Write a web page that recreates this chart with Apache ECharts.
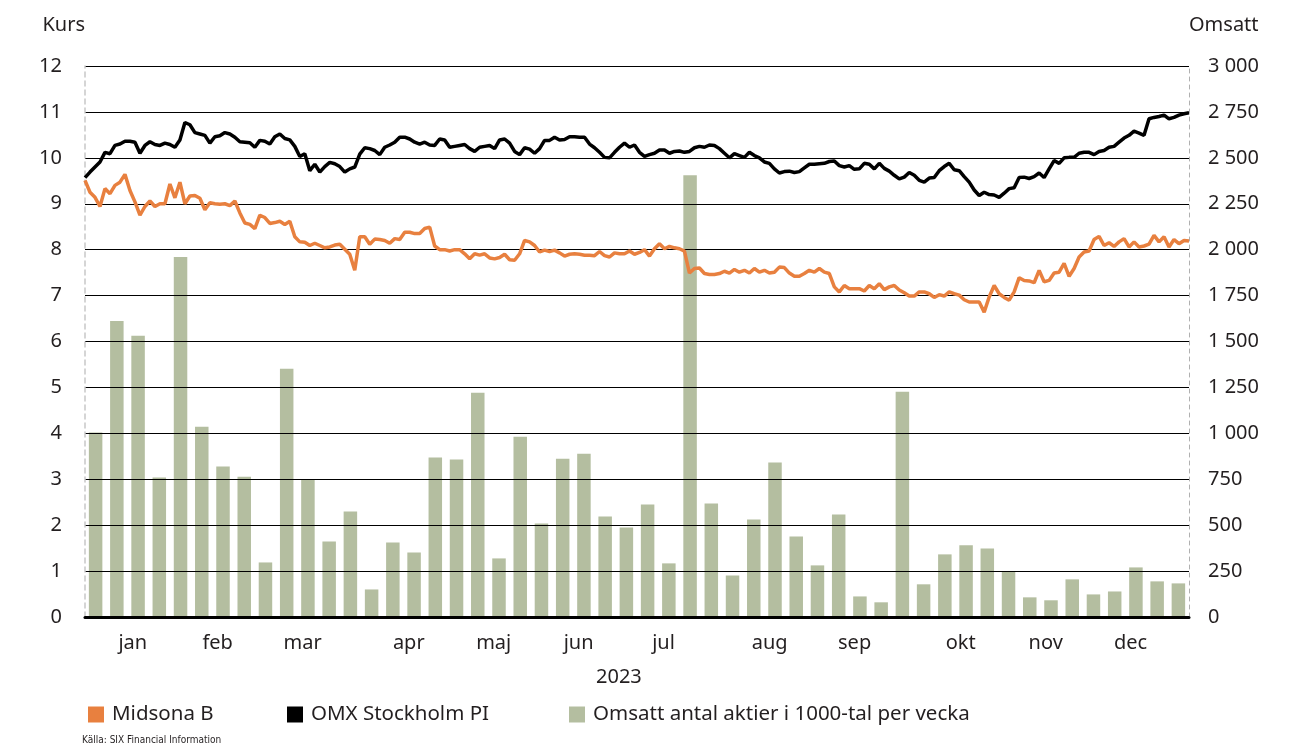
<!DOCTYPE html>
<html>
<head>
<meta charset="utf-8">
<script src="https://cdn.jsdelivr.net/npm/echarts@6/dist/echarts.min.js"></script>
<style>
html, body { margin: 0; padding: 0; background: #fff; }
#chart { width: 1294px; height: 745px; }
</style>
</head>
<body>
<div id="chart"></div>
<script>
// Midsona B, daily closing price (kr)
const midsona = [
  9.51, 9.25, 9.14, 8.94, 9.33, 9.22, 9.40, 9.47, 9.64, 9.29,
  9.04, 8.75, 8.94, 9.06, 8.94, 9.00, 9.00, 9.43, 9.13, 9.47,
  9.00, 9.17, 9.18, 9.12, 8.87, 9.02, 9.00, 8.99, 9.00, 8.96,
  9.06, 8.80, 8.58, 8.55, 8.46, 8.75, 8.70, 8.57, 8.59, 8.62,
  8.55, 8.62, 8.28, 8.17, 8.16, 8.09, 8.14, 8.09, 8.04, 8.06,
  8.10, 8.12, 8.01, 7.90, 7.55,
  8.28, 8.28, 8.12, 8.23, 8.22, 8.20, 8.14, 8.24, 8.22, 8.38,
  8.38, 8.35, 8.35, 8.46, 8.49, 8.08, 8.00, 8.00, 7.97, 8.00,
  8.00, 7.91, 7.80, 7.91, 7.88, 7.91, 7.82, 7.80, 7.83, 7.90,
  7.78, 7.77, 7.91, 8.20, 8.17, 8.09, 7.95, 7.99, 7.96, 7.99,
  7.93, 7.86, 7.90, 7.91, 7.90, 7.88, 7.88, 7.87, 7.96, 7.87,
  7.84, 7.93, 7.91, 7.91, 7.97, 7.90,
  7.94, 8.00, 7.86, 8.02, 8.13, 8.02, 8.07, 8.04, 8.02, 7.97,
  7.49, 7.59, 7.60, 7.48, 7.46, 7.46, 7.48, 7.53, 7.49, 7.57,
  7.51, 7.55, 7.49, 7.59, 7.51, 7.55, 7.49, 7.51, 7.62, 7.61,
  7.49, 7.42, 7.42, 7.48, 7.55, 7.51, 7.59, 7.51, 7.48, 7.19,
  7.08, 7.22, 7.15, 7.15, 7.15, 7.10, 7.22, 7.15, 7.26, 7.13,
  7.19, 7.22, 7.12, 7.06, 6.99,
  6.99, 7.08, 7.08, 7.04, 6.96, 7.02, 6.99, 7.08, 7.04, 7.01,
  6.91, 6.86, 6.86, 6.86, 6.64, 6.97, 7.22, 7.04, 6.96, 6.90,
  7.08, 7.39, 7.33, 7.32, 7.28, 7.55, 7.30, 7.33, 7.49, 7.51,
  7.70, 7.42, 7.59, 7.84, 7.95, 7.97, 8.22, 8.29, 8.09, 8.15,
  8.07, 8.17, 8.24, 8.06, 8.17, 8.06, 8.08, 8.12, 8.31, 8.17,
  8.28, 8.06, 8.22, 8.13, 8.20, 8.19
];

// OMX Stockholm PI, rebased to the Midsona start price
const omx = [
  9.57, 9.69, 9.80, 9.91, 10.12, 10.09, 10.27, 10.30, 10.36, 10.36,
  10.34, 10.10, 10.27, 10.35, 10.29, 10.27, 10.32, 10.29, 10.23, 10.39,
  10.77, 10.72, 10.55, 10.52, 10.49, 10.32, 10.46, 10.48, 10.55, 10.52,
  10.45, 10.35, 10.34, 10.33, 10.23, 10.38, 10.36, 10.30, 10.46, 10.52,
  10.42, 10.39, 10.25, 10.03, 10.09, 9.72, 9.86, 9.69, 9.81, 9.90,
  9.87, 9.81, 9.69, 9.76, 9.80,
  10.08, 10.22, 10.20, 10.16, 10.07, 10.23, 10.28, 10.34, 10.45, 10.45,
  10.41, 10.34, 10.30, 10.34, 10.28, 10.27, 10.41, 10.39, 10.23, 10.25,
  10.27, 10.29, 10.20, 10.14, 10.23, 10.25, 10.27, 10.20, 10.39, 10.41,
  10.32, 10.14, 10.07, 10.22, 10.19, 10.10, 10.20, 10.38, 10.38, 10.45,
  10.39, 10.40, 10.46, 10.46, 10.45, 10.45, 10.30, 10.22, 10.12, 10.01,
  10.00, 10.12, 10.23, 10.32, 10.23, 10.28,
  10.12, 10.03, 10.07, 10.10, 10.17, 10.17, 10.10, 10.14, 10.15, 10.12,
  10.14, 10.22, 10.25, 10.23, 10.28, 10.27, 10.20, 10.10, 10.00, 10.09,
  10.05, 10.01, 10.12, 10.05, 10.00, 9.91, 9.88, 9.76, 9.67, 9.70,
  9.71, 9.68, 9.70, 9.78, 9.86, 9.86, 9.87, 9.88, 9.92, 9.93,
  9.83, 9.80, 9.83, 9.75, 9.76, 9.88, 9.86, 9.76, 9.88, 9.77,
  9.71, 9.62, 9.54, 9.58, 9.68,
  9.62, 9.51, 9.47, 9.56, 9.57, 9.72, 9.81, 9.88, 9.74, 9.72,
  9.59, 9.47, 9.30, 9.18, 9.25, 9.20, 9.19, 9.14, 9.23, 9.33,
  9.35, 9.57, 9.58, 9.55, 9.59, 9.67, 9.57, 9.76, 9.94, 9.88,
  10.00, 10.01, 10.01, 10.10, 10.12, 10.12, 10.07, 10.14, 10.16, 10.23,
  10.25, 10.34, 10.43, 10.49, 10.58, 10.54, 10.49, 10.85, 10.88, 10.90,
  10.93, 10.85, 10.88, 10.93, 10.96, 10.98
];

// weekly turnover, thousands of shares
const volume = [
  1005, 1612, 1531, 759, 1960, 1036, 819, 764, 297, 1351,
  746, 411, 574, 150, 406, 351, 868, 857, 1221, 319,
  982, 509, 862, 889, 547, 487, 612, 292, 2405, 618,
  226, 531, 841, 438, 281, 558, 112, 80, 1226, 178,
  341, 390, 373, 246, 107, 91, 205, 123, 139, 270,
  194, 183
];

const months = ['jan', 'feb', 'mar', 'apr', 'maj', 'jun', 'jul', 'aug', 'sep', 'okt', 'nov', 'dec'];
// label centres, in weeks from the start of the year
const monthPos = [2.25, 6.25, 10.25, 15.25, 19.25, 23.25, 27.25, 32.25, 36.25, 41.25, 45.25, 49.25];

const weeks = volume.map((v, i) => 'v' + (i + 1));
const days = midsona.map((v, i) => i);

const txt = '#231f20';
const font = 'Noto Sans';

let chart = echarts.init(document.getElementById('chart'));

chart.setOption({
    animation: false,
    textStyle: { fontFamily: font, color: txt },
    grid: { left: 85, right: 105, top: 66, bottom: 128 },
    legend: [
        { data: ['Midsona B'], left: 88, top: 704 },
        { data: ['OMX Stockholm PI'], left: 287, top: 704 },
        { data: ['Omsatt antal aktier i 1000-tal per vecka'], left: 569, top: 704 }
    ].map(l => Object.assign(l, {
        icon: 'rect', itemWidth: 16, itemHeight: 16, padding: 0,
        textStyle: { fontFamily: font, fontSize: 20.5, color: txt, padding: [0, 0, 0, 3] }
    })),
    xAxis: [
        {
            type: 'category', data: weeks, position: 'bottom',
            axisLine: { lineStyle: { color: '#000', width: 3 } },
            axisTick: { show: false }, axisLabel: { show: false }, z: 4
        },
        {
            type: 'category', data: days, boundaryGap: false, show: false, position: 'bottom'
        },
        {
            type: 'value', min: 0, max: 52, position: 'bottom', offset: 0,
            axisLine: { show: false, onZero: false }, axisTick: { show: false }, splitLine: { show: false },
            axisLabel: {
                customValues: monthPos,
                margin: 16, fontSize: 20, color: txt, fontFamily: font,
                formatter: v => {
                    let k = 0;
                    monthPos.forEach((p, i) => { if (Math.abs(p - v) < Math.abs(monthPos[k] - v)) k = i; });
                    return months[k];
                }
            }
        }
    ],
    yAxis: [
        {
            type: 'value', min: 0, max: 12, interval: 1, position: 'left',
            name: 'Kurs', nameLocation: 'end', nameGap: 41,
            nameTextStyle: { fontSize: 20, color: txt, align: 'right', verticalAlign: 'middle' },
            axisLine: { show: true, lineStyle: { color: '#c8c8c8', type: [5, 4], width: 1.5 } },
            axisTick: { show: false },
            axisLabel: { fontSize: 20, color: txt, margin: 23 },
            splitLine: { lineStyle: { color: '#000', width: 1.2 } },
            z: 3
        },
        {
            type: 'value', min: 0, max: 3000, interval: 250, position: 'right',
            name: 'Omsatt', nameLocation: 'end', nameGap: 41,
            nameTextStyle: { fontSize: 20, color: txt, align: 'left', verticalAlign: 'middle' },
            axisLine: { show: true, lineStyle: { color: '#b0b0b0', type: [4, 4], width: 1 } },
            axisTick: { show: false },
            splitLine: { show: false },
            axisLabel: {
                fontSize: 20, color: txt, margin: 19,
                formatter: v => v >= 1000 ? Math.floor(v / 1000) + ' ' + String(v % 1000).padStart(3, '0') : String(v)
            }
        }
    ],
    graphic: [
        {
            type: 'text', left: 620 - 24, top: 667,
            style: { text: '2023', fontSize: 20, fontFamily: font, fill: txt }
        },
        {
            type: 'text', left: 82, top: 735,
            style: { text: 'Källa: SIX Financial Information', fontSize: 10, fontFamily: 'Liberation Sans Narrow, DejaVu Sans Condensed', fill: txt }
        }
    ],
    series: [
        {
            name: 'Omsatt antal aktier i 1000-tal per vecka',
            type: 'bar', xAxisIndex: 0, yAxisIndex: 1,
            data: volume, barWidth: 13.5,
            itemStyle: { color: '#b4bea0' }, z: 2
        },
        {
            name: 'Midsona B',
            type: 'line', xAxisIndex: 1, yAxisIndex: 0,
            data: midsona, showSymbol: false,
            lineStyle: { color: '#e8803f', width: 3.5 },
            itemStyle: { color: '#e8803f' }, z: 5
        },
        {
            name: 'OMX Stockholm PI',
            type: 'line', xAxisIndex: 1, yAxisIndex: 0,
            data: omx, showSymbol: false,
            lineStyle: { color: '#000', width: 3.5 },
            itemStyle: { color: '#000' }, z: 5
        }
    ]
});
</script>
</body>
</html>
